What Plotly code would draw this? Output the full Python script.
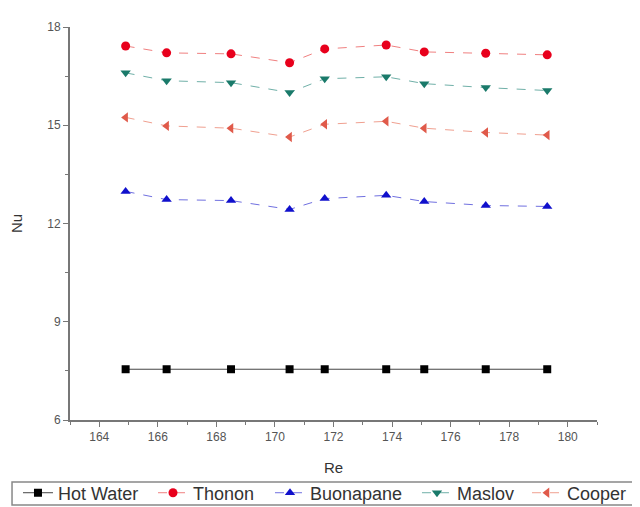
import plotly.graph_objects as go

re = [164.9, 166.3, 168.5, 170.5, 171.7, 173.8, 175.1, 177.2, 179.3]
hot_water = [7.55, 7.55, 7.55, 7.55, 7.55, 7.55, 7.55, 7.55, 7.55]
thonon = [17.42, 17.21, 17.18, 16.91, 17.33, 17.45, 17.24, 17.2, 17.15]
buonapane = [12.98, 12.73, 12.7, 12.43, 12.76, 12.86, 12.67, 12.55, 12.52]
maslov = [16.6, 16.36, 16.3, 16.0, 16.42, 16.48, 16.27, 16.15, 16.06]
cooper = [15.24, 14.98, 14.91, 14.64, 15.03, 15.12, 14.91, 14.78, 14.7]

series = [
    ("Hot Water", hot_water, "#000000", "#444444", "square", "solid", 8),
    ("Thonon", thonon, "#e8001c", "#f08080", "circle", "dash", 9),
    ("Buonapane", buonapane, "#1010cc", "#7070e0", "triangle-up", "dash", 9),
    ("Maslov", maslov, "#1a7a6a", "#70b0a8", "triangle-down", "dash", 9),
    ("Cooper", cooper, "#e05a4a", "#f0a090", "triangle-left", "dash", 9),
]
legend_x = [-0.0987, 0.1575, 0.3795, 0.6584, 0.8672]

fig = go.Figure()
legend_ids = ["legend", "legend2", "legend3", "legend4", "legend5"]
for (name, ys, mc, lc, sym, dash, sz), lid in zip(series, legend_ids):
    fig.add_trace(go.Scatter(
        x=re, y=ys, name=name, mode="lines+markers", legend=lid, showlegend=True,
        line=dict(color=lc, width=1, dash=dash),
        marker=dict(color=mc, symbol=sym, size=sz),
    ))

legend_style = dict(
    orientation="h", xanchor="left", y=-0.1858, yanchor="middle",
    bgcolor="rgba(0,0,0,0)", borderwidth=0,
    font=dict(size=18, color="#333333"), itemwidth=30,
)

layout_legends = {lid: dict(legend_style, x=lx) for lid, lx in zip(legend_ids, legend_x)}

fig.update_layout(
    width=632, height=499, showlegend=True,
    margin=dict(l=62, r=43, t=19, b=87, autoexpand=False),
    paper_bgcolor="white", plot_bgcolor="white",
    font=dict(family="Liberation Sans, Arial, sans-serif", color="#333333"),
    xaxis=dict(
        range=[163, 181], tickvals=[164, 166, 168, 170, 172, 174, 176, 178, 180],
        showgrid=False, zeroline=False, showline=True, linecolor="#777777", linewidth=2,
        ticks="outside", ticklen=5, tickcolor="#777777", tickfont=dict(size=12, color="#555555"),
        minor=dict(ticks="outside", ticklen=3, tickcolor="#777777", dtick=1, tick0=163),
        title=dict(text="Re", font=dict(size=15, color="#333333"), standoff=19),
    ),
    yaxis=dict(
        range=[6, 18], tickvals=[6, 9, 12, 15, 18],
        showgrid=False, zeroline=False, showline=True, linecolor="#777777", linewidth=2,
        ticks="outside", ticklen=5, tickcolor="#777777", tickfont=dict(size=12, color="#555555"),
        minor=dict(ticks="outside", ticklen=3, tickcolor="#777777", dtick=1.5, tick0=6),
        title=dict(text="Nu", font=dict(size=15, color="#333333"), standoff=22),
    ),
    shapes=[dict(
        type="rect", xref="paper", yref="paper",
        x0=-0.110, x1=1.074, y0=-0.2163, y1=-0.1578,
        line=dict(color="#888888", width=1.5), fillcolor="rgba(0,0,0,0)", layer="below",
    )],
    **layout_legends,
)

fig.write_html("out.html")
